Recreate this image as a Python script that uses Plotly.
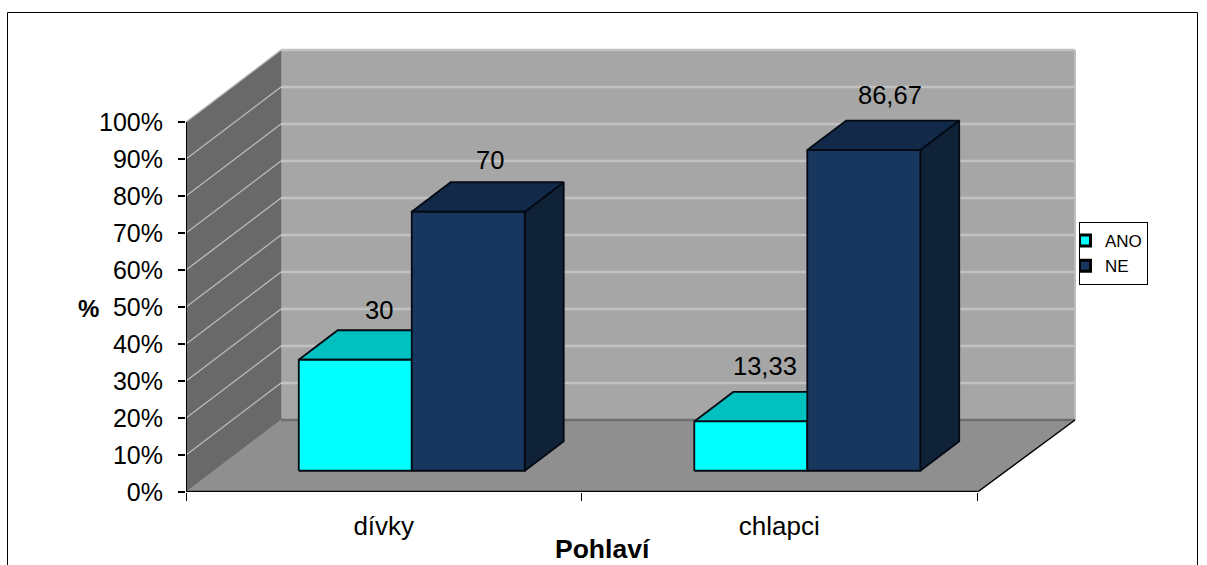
import plotly.graph_objects as go

categories = ["dívky", "chlapci"]
series_names = ["ANO", "NE"]
ano_values = [30, 13.33]
ne_values = [70, 86.67]
value_labels_ano = ["30", "13,33"]
value_labels_ne = ["70", "86,67"]
y_ticks = [0, 10, 20, 30, 40, 50, 60, 70, 80, 90, 100]
y_tick_labels = ["0%", "10%", "20%", "30%", "40%", "50%", "60%", "70%", "80%", "90%", "100%"]
x_boundaries = [0, 1, 2]

# figure geometry and oblique projection of the 3D box
W, H = 1207, 565
L, R, T, B = 186, 127, 40, 73
PX_PER_CAT = 395.5
PX_PER_PCT = 3.7
pw, ph = W - L - R, H - T - B
X_MAX = pw / PX_PER_CAT
Y_MAX = ph / PX_PER_PCT
DEPTH_X, DEPTH_Y = 95 / PX_PER_CAT, 72 / PX_PER_PCT
WALL_END = 2 + 3 / PX_PER_CAT
BAR_W = 1 / 3.5
D0, D1 = 0.295, 0.705
FONT = "Liberation Sans, Arial, sans-serif"

C_ANO = ("#00FFFF", "#00C0C0", "#009A9A")
C_NE = ("#17375E", "#12294A", "#0F2238")


def proj(x, v, d):
    return x + d * DEPTH_X, v + d * DEPTH_Y


def poly(points, fill, line_color=None, width=1.8):
    xs, ys = zip(*[proj(*p) for p in points])
    return go.Scatter(
        x=list(xs) + [xs[0]], y=list(ys) + [ys[0]], mode="lines", fill="toself",
        fillcolor=fill, line=dict(color=line_color or fill, width=width if line_color else 0.5),
        hoverinfo="skip", showlegend=False,
    )


def segment(points, color, width):
    xs, ys = zip(*[proj(*p) for p in points])
    return go.Scatter(x=list(xs), y=list(ys), mode="lines", line=dict(color=color, width=width),
                      hoverinfo="skip", showlegend=False, cliponaxis=False)


def bar(x0, value, colors):
    x1 = x0 + BAR_W
    face, top, side = colors
    return [
        poly([(x1, 0, D0), (x1, 0, D1), (x1, value, D1), (x1, value, D0)], side, "#030A14"),
        poly([(x0, value, D0), (x1, value, D0), (x1, value, D1), (x0, value, D1)], top, "#030A14"),
        poly([(x0, 0, D0), (x1, 0, D0), (x1, value, D0), (x0, value, D0)], face, "#050A12"),
    ]


fig = go.Figure()

# walls and floor
fig.add_trace(poly([(0, 0, 1), (WALL_END, 0, 1), (WALL_END, 100, 1), (0, 100, 1)], "#A6A6A6"))
fig.add_trace(poly([(0, 0, 0), (0, 0, 1), (0, 100, 1), (0, 100, 0)], "#696969"))
for t in y_ticks[1:]:
    fig.add_trace(segment([(0, t, 0), (0, t, 1)], "#BDBDBD", 1.3))
    fig.add_trace(segment([(0, t, 1), (WALL_END, t, 1)], "#C2C2C2", 2.5))
fig.add_trace(segment([(WALL_END, 0, 1), (WALL_END, 100, 1)], "#BDBDBD", 2))
floor_end = 2 + 0.5 / PX_PER_CAT
fig.add_trace(go.Scatter(
    x=[proj(0, 0, 0)[0], proj(floor_end, 0, 0)[0], proj(WALL_END, 0, 1)[0], proj(0, 0, 1)[0], proj(0, 0, 0)[0]],
    y=[0, 0, DEPTH_Y, DEPTH_Y, 0], mode="lines", fill="toself", fillcolor="#8F8F8F",
    line=dict(color="#8F8F8F", width=0.5), hoverinfo="skip", showlegend=False,
))
fig.add_trace(segment([(0, 0, 1), (WALL_END, 0, 1)], "#6E6E6E", 2.5))
fig.add_trace(go.Scatter(
    x=[proj(floor_end, 0, 0)[0], proj(WALL_END, 0, 1)[0]], y=[0, DEPTH_Y], mode="lines",
    line=dict(color="#000000", width=1.5), hoverinfo="skip", showlegend=False, cliponaxis=False,
))

# bars
for i in range(len(categories)):
    mid = i + 0.5
    for tr in bar(mid - BAR_W, ano_values[i], C_ANO) + bar(mid, ne_values[i], C_NE):
        fig.add_trace(tr)

# axis lines
fig.add_trace(segment([(0, 0, 0), (2, 0, 0)], "#000000", 2.5))
fig.add_trace(segment([(0, 0, 0), (0, 100, 0)], "#000000", 2))

# legend entries
for name, colors in zip(series_names, (C_ANO, C_NE)):
    fig.add_trace(go.Scatter(
        x=[None], y=[None], mode="markers", name=name,
        marker=dict(symbol="square", size=11, color=colors[0], line=dict(color="#000000", width=3)),
    ))

# value labels, offset from the centre of each bar's front top edge
label_dx = [[24, 22], [14, 26]]
label_dy = [[-50, -52], [-55, -55]]
for i in range(len(categories)):
    mid = i + 0.5
    for j, (vals, labs, xpos) in enumerate(((ano_values, value_labels_ano, mid - BAR_W / 2),
                                           (ne_values, value_labels_ne, mid + BAR_W / 2))):
        px, py = proj(xpos, vals[i], D0)
        fig.add_annotation(x=px, y=py, text=labs[i], showarrow=False, xanchor="center", yanchor="middle",
                           xshift=label_dx[i][j], yshift=-label_dy[i][j],
                           font=dict(family=FONT, size=25.5, color="#000000"))

# axis titles (horizontal "%" and an off-centre "Pohlaví")
fig.add_annotation(xref="paper", yref="paper", x=(88 - L) / pw, y=(492 - 308) / ph, text="<b>%</b>",
                   showarrow=False, xanchor="center", yanchor="middle",
                   font=dict(family=FONT, size=24, color="#000000"))
fig.add_annotation(xref="paper", yref="paper", x=(603 - L) / pw, y=(492 - 549) / ph, text="<b>Pohlaví</b>",
                   showarrow=False, xanchor="center", yanchor="middle",
                   font=dict(family=FONT, size=26.5, color="#000000"))

fig.add_shape(type="rect", xref="paper", yref="paper", layer="below",
              x0=(7.5 - L) / pw, x1=(1197.5 - L) / pw, y0=-0.4, y1=(492 - 12.5) / ph,
              line=dict(color="#000000", width=1), fillcolor="#FFFFFF")

fig.update_layout(
    width=W, height=H, autosize=False,
    margin=dict(l=L, r=R, t=T, b=B),
    paper_bgcolor="#FFFFFF", plot_bgcolor="rgba(0,0,0,0)",
    font=dict(family=FONT, size=25, color="#000000"),
    showlegend=True,
    legend=dict(x=(1079 - L) / pw, y=(492 - 222) / ph, xanchor="left", yanchor="top",
                bordercolor="#000000", borderwidth=1, bgcolor="#FFFFFF", indentation=-15,
                font=dict(family=FONT, size=17, color="#000000"), tracegroupgap=0),
    xaxis=dict(
        range=[0, X_MAX], showgrid=False, zeroline=False, showline=False,
        tickmode="array", tickvals=[0.5, 1.5], ticktext=categories, ticks="", ticklabelstandoff=16,
        tickfont=dict(family=FONT, size=26),
        minor=dict(tickmode="array", tickvals=x_boundaries, ticks="outside", ticklen=8, tickwidth=1, tickcolor="#000000"),
        automargin=False,
    ),
    yaxis=dict(
        range=[0, Y_MAX], showgrid=False, zeroline=False, showline=False,
        tickmode="array", tickvals=y_ticks, ticktext=y_tick_labels, ticks="outside", ticklen=7, tickwidth=2,
        tickcolor="#000000", ticklabelstandoff=10,
        automargin=False,
    ),
)

fig.write_html("out.html", config={"displayModeBar": False}, post_script="document.body.style.margin='0';")
